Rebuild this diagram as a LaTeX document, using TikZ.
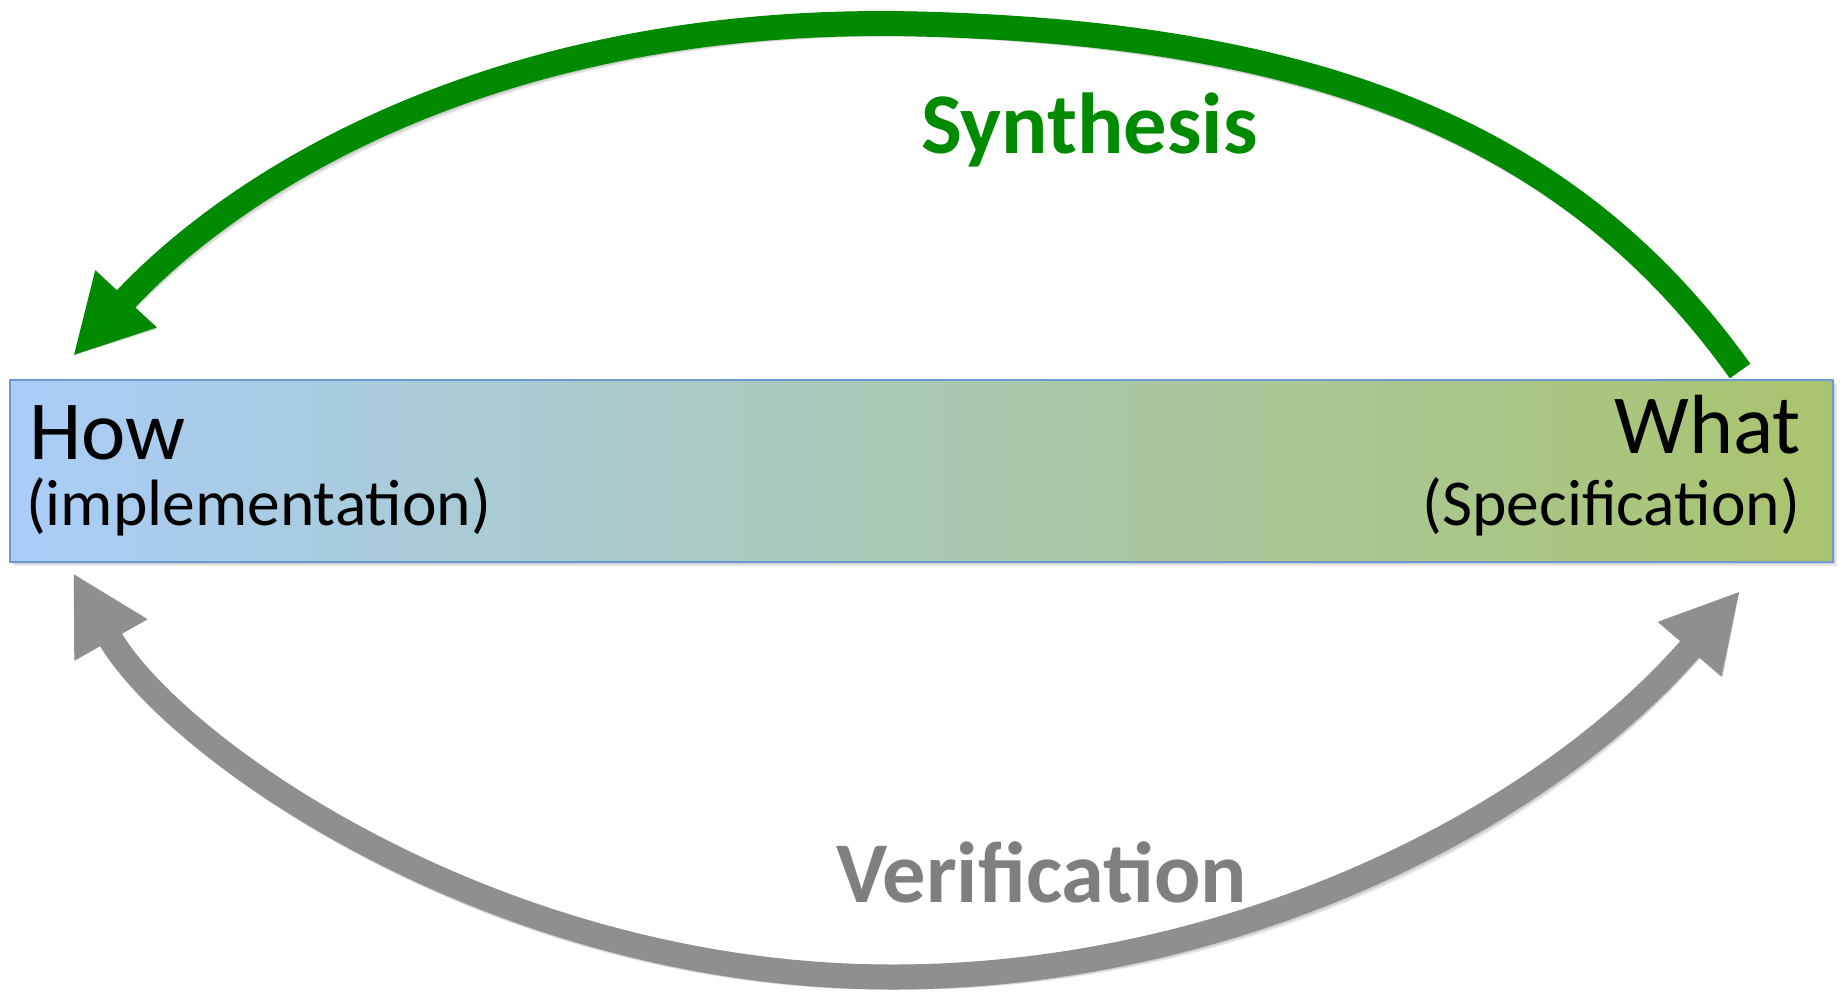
\documentclass[tikz,border=0pt]{standalone}
\usepackage{fontspec}
\setmainfont{Carlito}
\usetikzlibrary{arrows.meta}
\definecolor{synth}{RGB}{0,138,0}
\definecolor{verif}{RGB}{143,143,143}
\definecolor{veriftext}{RGB}{127,127,127}
\definecolor{barleft}{RGB}{169,205,248}
\definecolor{barright}{RGB}{170,196,110}
\definecolor{barborder}{RGB}{108,155,210}
\begin{document}
\begin{tikzpicture}[x=1pt,y=-1pt,
  bigarrow/.style={line width=25pt},
  shade1/.style={black, opacity=0.10},
  label/.style={inner sep=0pt, outer sep=0pt},
]
\useasboundingbox (0,0) rectangle (1843,996);
% endpoints
\coordinate (gs) at (1740,371);
\coordinate (gtop) at (917,24);
\coordinate (gt) at (73,356);
\coordinate (vl) at (73,573);
\coordinate (vbot) at (893,977);
\coordinate (vr) at (1740,591);
% soft shadows
\foreach \d in {2,4}{
  \fill[shade1] (10+\d,380+\d) rectangle (1833+\d,562+\d);
  \draw[bigarrow, shade1, shift={(\d,\d)}, -{Triangle[length=78pt,width=78pt]}]
    (gs) .. controls (1575,140) and (1330,34) .. (gtop)
         .. controls (504,14) and (240,176) .. (gt);
  \draw[bigarrow, shade1, shift={(\d,\d)}, {Triangle[length=77pt,width=78pt]}-{Triangle[length=77pt,width=78pt]}]
    (vl) .. controls (170.5,745.5) and (493,977) .. (vbot)
         .. controls (1223,977) and (1536,827) .. (vr);
}
% bar
\node (bar) [draw=barborder, line width=1.5pt, left color=barleft, right color=barright,
  minimum width=1823pt, minimum height=182pt, inner sep=0pt] at (921.5,471) {};
\node (how) [label, anchor=base west, font=\fontsize{84}{90}\selectfont] at (29,459) {How};
\node (impl) [label, anchor=base west, font=\fontsize{65.5}{72}\selectfont] at (26,525) {(implementation)};
\node (what) [label, anchor=base east, font=\fontsize{84}{90}\selectfont] at (1801,453) {What};
\node (spec) [label, anchor=base east, font=\fontsize{65.5}{72}\selectfont] at (1800,525) {(Specification)};
% synthesis arrow
\draw[bigarrow, synth, -{Triangle[length=78pt,width=78pt]}]
  (gs) .. controls (1575,140) and (1330,34) .. (gtop)
       .. controls (504,14) and (240,176) .. (gt);
% verification arrow
\draw[bigarrow, verif, {Triangle[length=77pt,width=78pt]}-{Triangle[length=77pt,width=78pt]}]
  (vl) .. controls (170.5,745.5) and (493,977) .. (vbot)
       .. controls (1223,977) and (1536,827) .. (vr);
\node (synlabel) [label, anchor=base west, text=synth, font=\bfseries\fontsize{86.5}{90}\selectfont] at (921,153) {Synthesis};
\node (verlabel) [label, anchor=base west, text=veriftext, font=\bfseries\fontsize{86.5}{90}\selectfont] at (836,902) {Verification};
\end{tikzpicture}
\end{document}
